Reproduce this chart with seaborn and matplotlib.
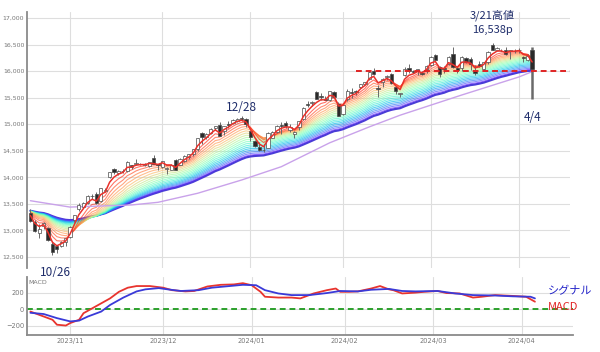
import numpy as np
import pandas as pd
import seaborn as sns
import matplotlib.pyplot as plt
from matplotlib.ticker import FuncFormatter

# trading days (US market holidays skipped)
holidays = ['2023-11-23', '2023-12-25', '2024-01-01', '2024-01-15', '2024-02-19', '2024-03-29']
dates = pd.bdate_range('2023-10-19', '2024-04-04', freq='C', holidays=holidays)

opens = [13330, 13160, 12950, 13080, 13050, 12750, 12700, 12700, 12780, 12870,
         13190, 13400, 13450, 13510, 13650, 13680, 13560, 13740, 14000, 14150,
         14080, 14120, 14120, 14230, 14260, 14250, 14240, 14220, 14370, 14250,
         14200, 14150, 14130, 14320, 14240, 14310, 14380, 14430, 14530, 14840,
         14760, 14830, 14930, 14980, 14880, 15000, 15020, 15070, 15120, 15100,
         14870, 14680, 14570, 14510, 14560, 14740, 14850, 14980, 15030, 14900,
         14810, 14950, 15100, 15380, 15400, 15600, 15540, 15480, 15460, 15600,
         15390, 15200, 15480, 15600, 15610, 15700, 15750, 15860, 16000, 15690,
         15790, 15880, 15940, 15700, 15570, 15930, 16060, 16000, 16000, 15960,
         16040, 16120, 16300, 16080, 16050, 16130, 16320, 16050, 16060, 16240,
         16220, 16030, 16140, 16040, 16180, 16500, 16400, 16370, 16400, 16380,
         16380, 16400, 16260, 16200, 16400]
highs = [13410, 13200, 13120, 13160, 13060, 12800, 12720, 12810, 12860, 13090,
         13300, 13520, 13530, 13660, 13690, 13720, 13800, 13800, 14100, 14180,
         14130, 14160, 14300, 14240, 14340, 14270, 14270, 14290, 14420, 14260,
         14310, 14190, 14260, 14340, 14360, 14420, 14440, 14540, 14750, 14860,
         14840, 14920, 14970, 15040, 14970, 15070, 15100, 15110, 15150, 15110,
         14880, 14710, 14660, 14630, 14850, 14870, 14980, 15050, 15060, 15000,
         14870, 15060, 15320, 15430, 15430, 15620, 15580, 15530, 15630, 15620,
         15420, 15380, 15660, 15690, 15650, 15760, 15800, 16000, 16050, 15730,
         15870, 15930, 15960, 15720, 15590, 16070, 16130, 16030, 16040, 16000,
         16120, 16280, 16330, 16090, 16090, 16290, 16450, 16080, 16280, 16260,
         16260, 16110, 16190, 16170, 16370, 16538, 16460, 16420, 16460, 16400,
         16420, 16430, 16280, 16320, 16450]
lows = [13160, 12970, 12850, 13020, 12800, 12543, 12580, 12690, 12710, 12850,
        13150, 13370, 13430, 13500, 13600, 13500, 13540, 13720, 13980, 14060,
        14040, 14080, 14100, 14150, 14230, 14230, 14220, 14200, 14250, 14130,
        14170, 14060, 14130, 14140, 14230, 14290, 14350, 14410, 14500, 14630,
        14730, 14820, 14900, 14770, 14800, 14930, 15010, 15040, 15060, 14950,
        14690, 14580, 14500, 14480, 14550, 14740, 14830, 14820, 14920, 14850,
        14740, 14900, 15080, 15330, 15350, 15470, 15450, 15450, 15440, 15500,
        15160, 15170, 15430, 15500, 15550, 15680, 15730, 15840, 15920, 15520,
        15710, 15830, 15760, 15560, 15510, 15900, 15970, 15960, 15930, 15920,
        15960, 16100, 16200, 15880, 15970, 16120, 16060, 15960, 16000, 16150,
        16030, 15930, 16080, 16020, 16140, 16400, 16390, 16370, 16300, 16230,
        16350, 16340, 16180, 16190, 15480]
closes = [13186, 12983, 13018, 13139, 12821, 12595, 12643, 12789, 12851, 13061,
          13294, 13478, 13518, 13640, 13651, 13521, 13798, 13768, 14094, 14103,
          14113, 14125, 14284, 14199, 14265, 14250, 14241, 14282, 14258, 14226,
          14305, 14185, 14229, 14147, 14339, 14403, 14432, 14533, 14733, 14762,
          14813, 14905, 14963, 14777, 14964, 14992, 15074, 15099, 15095, 15011,
          14765, 14592, 14510, 14524, 14843, 14857, 14970, 14970, 14972, 14944,
          14856, 15056, 15311, 15360, 15425, 15482, 15511, 15455, 15628, 15509,
          15164, 15361, 15629, 15597, 15609, 15756, 15793, 15990, 15942, 15656,
          15859, 15906, 15775, 15630, 15580, 16041, 15996, 15976, 16035, 15948,
          16092, 16274, 16208, 15940, 16031, 16273, 16085, 16019, 16265, 16178,
          16128, 15973, 16103, 16166, 16369, 16401, 16429, 16384, 16316, 16399,
          16379, 16397, 16240, 16277, 16049]

# ribbon level at the left edge
ribbon_seed = 13380

# slow moving average (light purple), read at a few trading days
slow_idx = [0, 9, 23, 29, 38, 48, 57, 68, 77, 84, 98, 111, 114]
slow_val = [13560, 13440, 13480, 13530, 13700, 13950, 14200, 14650, 14950, 15170, 15550, 15890, 15990]

# MACD panel
macd_idx = [0, 3, 5, 6, 8, 9, 11, 12, 14, 16, 18, 20, 22, 24, 27, 30, 32, 35, 37, 40,
            43, 46, 48, 50, 52, 53, 56, 59, 61, 64, 67, 69, 70, 72, 74, 77, 79, 81, 82, 84,
            87, 89, 92, 94, 97, 100, 102, 105, 109, 112, 114]
macd_val = [-30, -90, -130, -190, -200, -170, -130, -50, 10, 70, 130, 210, 260, 280, 280, 260, 230, 215, 220, 275,
            295, 300, 315, 290, 210, 150, 140, 140, 130, 190, 230, 250, 210, 210, 215, 250, 280, 240, 230, 190,
            200, 210, 220, 195, 190, 140, 150, 170, 160, 150, 90]
signal_idx = [0, 3, 6, 9, 11, 13, 16, 18, 21, 24, 26, 29, 31, 34, 38, 41, 45, 48, 51, 53,
              56, 59, 63, 67, 70, 74, 77, 81, 84, 87, 92, 96, 100, 105, 109, 113, 114]
signal_val = [-45, -60, -110, -150, -140, -90, -30, 50, 140, 215, 240, 255, 240, 220, 230, 260, 280, 295, 290, 230,
              190, 170, 170, 195, 220, 215, 235, 245, 220, 215, 220, 190, 170, 165, 155, 150, 130]

resistance = 16000
resistance_from = '2024-02-06'
month_labels = ['2023/11', '2023/12', '2024/01', '2024/02', '2024/03', '2024/04']

df = pd.DataFrame({'date': dates, 'open': opens, 'high': highs, 'low': lows, 'close': closes})
df['i'] = np.arange(len(df))
ym = df['date'].dt.strftime('%Y/%m')
month_pos = [int(df.loc[ym == m, 'i'].iloc[0]) for m in month_labels]

sns.set_theme(style='white')
plt.rcParams['font.family'] = ['DejaVu Sans', 'Noto Sans CJK JP']
jp = ['Noto Sans CJK JP', 'DejaVu Sans']
navy = '#1f2d6b'

fig = plt.figure(figsize=(6, 3.52), dpi=100)
ax = fig.add_axes([27 / 600, 84 / 352, 543 / 600, 256 / 352])
ax2 = fig.add_axes([27 / 600, 17 / 352, 546 / 600, 58 / 352])
xlim = (-0.77, 122.6)

# rainbow ribbon
spans = np.arange(3, 43, 2)
cols = plt.cm.rainbow(np.linspace(1, 0, len(spans)))
padded = pd.Series(np.r_[ribbon_seed, df['close'].values])
for k in range(len(spans) - 1, -1, -1):
    ema = padded.ewm(span=spans[k], adjust=False).mean().values[1:]
    if k == len(spans) - 1:
        sns.lineplot(x=df['i'], y=ema, ax=ax, color='#4a3cd6', lw=1.6, zorder=2)
    elif k == 0:
        sns.lineplot(x=df['i'], y=ema, ax=ax, color='#e8302a', lw=1.1, zorder=6)
    else:
        sns.lineplot(x=df['i'], y=ema, ax=ax, color=cols[k], lw=0.8, alpha=0.65, zorder=2)

sns.lineplot(x=slow_idx, y=slow_val, ax=ax, color='#c9a2ea', lw=1.0, zorder=2)

# candles
up = df['close'] >= df['open']
wick_lw = np.full(len(df), 0.7)
wick_lw[-1] = 1.8
ax.vlines(df['i'], df['low'], df['high'], colors='#6a6a6a', linewidths=wick_lw, zorder=4)
ax.bar(df['i'], (df['close'] - df['open']).abs().clip(lower=8),
       bottom=np.minimum(df['open'], df['close']), width=0.75,
       color=np.where(up, 'white', '#2a2a2a'), edgecolor='#4a4a4a', linewidth=0.5, zorder=5)

i_from = int(df.loc[df['date'] == resistance_from, 'i'].iloc[0])
ax.hlines(resistance, i_from, xlim[1], colors='#e02424', linestyles=(0, (3, 2)), lw=1.4, zorder=7)

ax.set_xlim(*xlim)
ax.set_ylim(12293, 17113)
ax.set_yticks(range(12500, 17001, 500))
ax.yaxis.set_major_formatter(FuncFormatter(lambda v, p: f'{int(v):,}'))
ax.set_xticks(month_pos)
ax.tick_params(labelbottom=False, length=0)
ax.tick_params(axis='y', pad=2, labelsize=4.5, labelcolor='#777777')
ax.grid(True, color='#dedede', lw=0.8)
ax.set_xlabel('')
ax.set_ylabel('')
for s in ['top', 'right', 'bottom']:
    ax.spines[s].set_visible(False)
ax.spines['left'].set_color('#8a8a8a')
ax.spines['left'].set_linewidth(1.3)

i_hi = int(df['high'].idxmax())
ax.text(i_hi, 17056, f"{df['date'][i_hi].month}/{df['date'][i_hi].day}高値", ha='center', va='center',
        fontsize=8, color=navy, family=jp)
ax.text(i_hi, 16774, f"{df['high'][i_hi]:,}p", ha='center', va='center', fontsize=8, color=navy, family=jp)
ax.text(48, 15315, '12/28', ha='center', va='center', fontsize=8.5, color=navy, family=jp)
ax.text(114, 15126, '4/4', ha='center', va='center', fontsize=8.5, color=navy, family=jp)
ax.text(5.8, 12217, '10/26', ha='center', va='center', fontsize=8.5, color=navy, family=jp)

# MACD panel
ax2.axhline(0, color='#2ca02c', ls=(0, (3, 2)), lw=1.4, zorder=2)
sns.lineplot(x=macd_idx, y=macd_val, ax=ax2, color='#e8342e', lw=1.3, zorder=3)
sns.lineplot(x=signal_idx, y=signal_val, ax=ax2, color='#3a3ad8', lw=1.3, zorder=4)
ax2.set_xlim(*xlim)
ax2.set_ylim(-315, 390)
ax2.set_yticks([-200, 0, 200])
ax2.set_xticks(month_pos)
ax2.set_xticklabels(month_labels)
ax2.tick_params(length=0, labelsize=4.8, labelcolor='#777777', pad=2)
ax2.grid(True, color='#dedede', lw=0.8)
ax2.set_xlabel('')
ax2.set_ylabel('')
for s in ['top', 'right']:
    ax2.spines[s].set_visible(False)
for s in ['left', 'bottom']:
    ax2.spines[s].set_color('#8a8a8a')
    ax2.spines[s].set_linewidth(1.3)
ax2.text(0.003, 0.95, 'MACD', transform=ax2.transAxes, fontsize=4.5, color='#777777', va='top')

fig.text(548 / 600, 1 - 291 / 352, 'シグナル', color='#2323c8', fontsize=8, va='center', family=jp)
fig.text(548 / 600, 1 - 307 / 352, 'MACD', color='#e02424', fontsize=8, va='center', family=jp)

fig.savefig('out.png', dpi=100)
